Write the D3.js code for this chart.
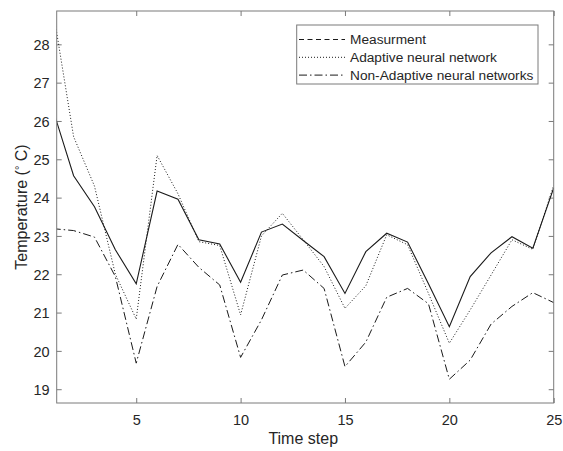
<!DOCTYPE html>
<html>
<head>
<meta charset="utf-8">
<script src="https://cdn.jsdelivr.net/npm/d3@7"></script>
<style>
  html, body { margin: 0; padding: 0; background: #fff; }
  svg { display: block; font-family: "Liberation Sans", Arial, Helvetica, sans-serif; }
</style>
</head>
<body>
<svg id="chart" width="563" height="451"></svg>
<script>
// ---- data ----
const timeSteps = d3.range(1, 26);
const measurement = [26.31, 24.57, 23.76, 22.64, 21.75, 24.17, 23.96, 22.90, 22.79, 21.79,
                     23.10, 23.31, 22.88, 22.46, 21.50, 22.59, 23.07, 22.84, 21.75, 20.63,
                     21.94, 22.56, 22.98, 22.68, 24.25];
const adaptive = [28.94, 25.59, 24.30, 22.00, 20.83, 25.10, 24.10, 22.85, 22.75, 20.94,
                  23.00, 23.59, 22.90, 22.20, 21.11, 21.70, 23.03, 22.77, 21.50, 20.20,
                  21.07, 21.98, 22.90, 22.65, 24.32];
const nonAdaptive = [23.19, 23.14, 22.97, 21.94, 19.68, 21.68, 22.78, 22.18, 21.72, 19.83,
                     20.81, 21.98, 22.11, 21.63, 19.59, 20.23, 21.40, 21.63, 21.23, 19.26,
                     19.76, 20.70, 21.16, 21.52, 21.26];
const xTicks = [5, 10, 15, 20, 25];
const yTicks = [19, 20, 21, 22, 23, 24, 25, 26, 27, 28];
const seriesNames = ["Measurment", "Adaptive neural network", "Non-Adaptive neural networks"];

// ---- layout ----
const svg = d3.select("#chart");
const L = 56.7, R = 553.7, T = 11, B = 403;
const x = d3.scaleLinear().domain([1.19, 25]).range([L, R]);
const y = d3.scaleLinear().domain([18.64, 28.87]).range([B, T]);
const frameColor = "#7a7a7a";
const textColor = "#262626";
const lineColor = "#1a1a1a";

svg.append("defs").append("clipPath").attr("id", "plotclip")
  .append("rect").attr("x", L).attr("y", T).attr("width", R - L).attr("height", B - T);

// axes (inward ticks)
const tickLen = 5;
const gx = svg.append("g").attr("transform", `translate(0,${B})`)
  .call(d3.axisBottom(x).tickValues(xTicks).tickSizeInner(-tickLen).tickSizeOuter(0).tickPadding(18));
const gxt = svg.append("g").attr("transform", `translate(0,${T})`)
  .call(d3.axisTop(x).tickValues(xTicks).tickSizeInner(-tickLen).tickSizeOuter(0).tickFormat(""));
const gy = svg.append("g").attr("transform", `translate(${L},0)`)
  .call(d3.axisLeft(y).tickValues(yTicks).tickSizeInner(-tickLen).tickSizeOuter(0).tickPadding(7));
const gyr = svg.append("g").attr("transform", `translate(${R},0)`)
  .call(d3.axisRight(y).tickValues(yTicks).tickSizeInner(-tickLen).tickSizeOuter(0).tickFormat(""));

[gx, gxt, gy, gyr].forEach(g => {
  g.select(".domain").remove();
  g.selectAll(".tick line").attr("stroke", frameColor).attr("stroke-width", 1);
  g.selectAll(".tick text").attr("fill", textColor).style("font-size", "14.5px")
    .style("font-family", '"Liberation Sans", Arial, sans-serif');
});
gx.selectAll(".tick text").attr("dy", null).attr("y", 22);
gy.selectAll(".tick text").attr("dy", "0.36em");

// lines
const line = d3.line().x((d, i) => x(timeSteps[i])).y(d => y(d));
const plot = svg.append("g").attr("clip-path", "url(#plotclip)");
plot.append("path").datum(measurement).attr("d", line)
  .attr("fill", "none").attr("stroke", lineColor).attr("stroke-width", 1.1);
plot.append("path").datum(adaptive).attr("d", line)
  .attr("fill", "none").attr("stroke", lineColor).attr("stroke-width", 1)
  .attr("stroke-dasharray", "1,2");
plot.append("path").datum(nonAdaptive).attr("d", line)
  .attr("fill", "none").attr("stroke", lineColor).attr("stroke-width", 1)
  .attr("stroke-dasharray", "8,3,1.5,3");

// frame
svg.append("rect").attr("x", L).attr("y", T).attr("width", R - L).attr("height", B - T)
  .attr("fill", "none").attr("stroke", frameColor).attr("stroke-width", 1);

// axis labels
svg.append("text").attr("x", x(13)).attr("y", 444).attr("text-anchor", "middle")
  .attr("fill", textColor).style("font-size", "16px").text("Time step");
const yl = svg.append("text").attr("transform", `translate(27,${(T + B) / 2}) rotate(-90)`)
  .attr("text-anchor", "middle").attr("fill", textColor).style("font-size", "16px");
yl.append("tspan").text("Temperature (");
yl.append("tspan").attr("baseline-shift", "35%").style("font-size", "11px").text("\u00B0");
yl.append("tspan").text(" C)");

// legend
const lg = svg.append("g");
lg.append("rect").attr("x", 296.7).attr("y", 25).attr("width", 241.3).attr("height", 59)
  .attr("fill", "#fff").attr("stroke", frameColor).attr("stroke-width", 1);
const dashes = ["5,3.5", "1,2", "8,3,1.5,3"];
seriesNames.forEach((name, i) => {
  const ry = 39.5 + i * 17.8;
  lg.append("line").attr("x1", 299).attr("x2", 345).attr("y1", ry).attr("y2", ry)
    .attr("stroke", lineColor).attr("stroke-width", 1).attr("stroke-dasharray", dashes[i]);
  lg.append("text").attr("x", 350).attr("y", ry).attr("dy", "0.36em")
    .attr("fill", textColor).style("font-size", "13.7px").text(name);
});
</script>
</body>
</html>
